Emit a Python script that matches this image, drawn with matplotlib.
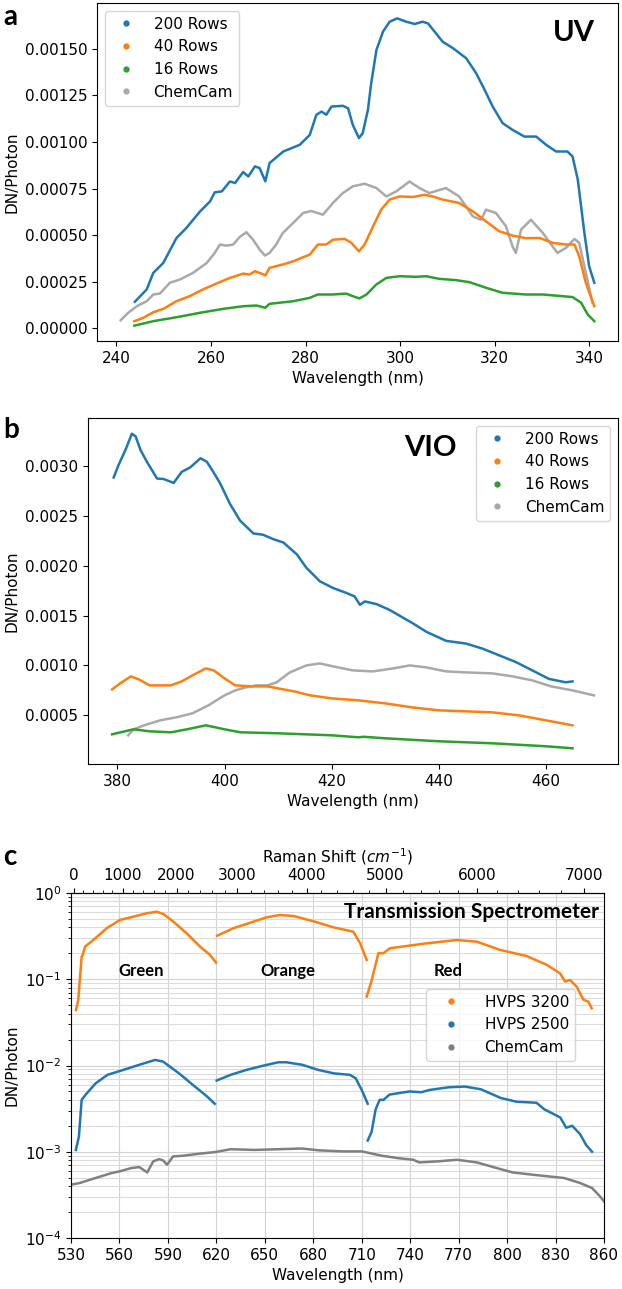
"""
Spectral response of the three spectrometers: UV, VIO and transmission.

Panel a/b: DN per photon vs wavelength for 200/40/16 row binning against ChemCam.
Panel c: transmission spectrometer (two HVPS settings) on a log scale,
with the Raman shift relative to 532 nm on the top axis.
"""

import numpy as np
import matplotlib
matplotlib.use("Agg")
import matplotlib.pyplot as plt
from matplotlib.lines import Line2D
from matplotlib.ticker import AutoMinorLocator

nan = np.nan

# ---- panel a: UV ------------------------------------------------------------
uv_200_wl = [243.9, 246.4, 247.8, 249.9, 252.7, 254.8, 257.7, 259.8, 260.8, 262.3,
             264.0, 265.1, 266.8, 267.9, 269.3, 270.3, 271.5, 272.4, 275.3, 278.8,
             280.9, 282.3, 283.4, 284.4, 285.5, 287.9, 289.0, 290.0, 291.3, 292.1,
             293.2, 293.9, 295.0, 296.4, 297.8, 299.4, 301.3, 303.1, 304.8, 305.9,
             307.6, 309.0, 311.2, 314.0, 316.1, 317.9, 319.6, 321.7, 323.8, 326.3,
             328.8, 330.9, 333.0, 335.4, 336.5, 337.6, 339.0, 340.0, 341.1]
uv_200 = [0.143, 0.209, 0.298, 0.351, 0.485, 0.539, 0.628, 0.681, 0.730, 0.735,
          0.788, 0.780, 0.839, 0.815, 0.869, 0.860, 0.789, 0.887, 0.949, 0.985,
          1.038, 1.146, 1.163, 1.146, 1.190, 1.194, 1.181, 1.092, 1.021, 1.047,
          1.172, 1.315, 1.493, 1.592, 1.645, 1.663, 1.645, 1.633, 1.645, 1.636,
          1.583, 1.538, 1.503, 1.449, 1.369, 1.279, 1.190, 1.101, 1.065, 1.029,
          1.029, 0.985, 0.949, 0.949, 0.922, 0.798, 0.512, 0.334, 0.245]

uv_40_wl = [243.8, 245.7, 247.8, 249.9, 252.7, 255.5, 258.3, 261.2, 264.0, 266.8,
            268.2, 269.3, 270.7, 271.5, 272.4, 275.2, 277.4, 279.5, 280.9, 282.6,
            284.4, 285.8, 288.3, 289.7, 291.3, 292.5, 294.3, 296.0, 297.8, 299.9,
            302.7, 305.2, 306.9, 309.0, 312.5, 315.4, 318.2, 321.0, 323.8, 326.6,
            329.5, 332.3, 335.1, 336.9, 337.9, 339.3, 341.1]
uv_40 = [0.039, 0.057, 0.087, 0.105, 0.146, 0.173, 0.209, 0.241, 0.271, 0.294,
         0.289, 0.307, 0.294, 0.284, 0.325, 0.343, 0.360, 0.382, 0.396, 0.450,
         0.450, 0.476, 0.480, 0.459, 0.414, 0.450, 0.548, 0.637, 0.691, 0.708,
         0.705, 0.717, 0.708, 0.691, 0.673, 0.628, 0.574, 0.521, 0.498, 0.484,
         0.485, 0.459, 0.450, 0.450, 0.387, 0.245, 0.119]

uv_16_wl = [243.8, 247.8, 252.7, 257.7, 262.6, 266.8, 269.6, 271.5, 272.4, 277.4,
            280.9, 282.6, 285.8, 288.6, 290.0, 291.4, 292.9, 295.0, 297.1, 299.9,
            303.4, 305.5, 308.3, 311.9, 314.7, 318.2, 321.7, 326.6, 330.2, 334.4,
            336.5, 338.3, 339.7, 341.1]
uv_16 = [0.015, 0.039, 0.060, 0.084, 0.105, 0.119, 0.123, 0.111, 0.132, 0.146,
         0.164, 0.182, 0.182, 0.187, 0.173, 0.161, 0.182, 0.236, 0.271, 0.280,
         0.277, 0.280, 0.266, 0.259, 0.248, 0.218, 0.191, 0.182, 0.182, 0.173,
         0.168, 0.138, 0.075, 0.039]

uv_cc_wl = [240.9, 242.5, 244.3, 246.4, 247.8, 249.2, 251.3, 253.4, 256.2, 259.1,
            260.8, 261.9, 263.3, 264.7, 266.1, 267.5, 268.9, 270.3, 271.4, 272.4,
            273.8, 275.2, 277.4, 279.5, 281.2, 283.7, 285.8, 287.9, 290.0, 292.5,
            295.0, 297.1, 299.2, 302.0, 304.1, 306.2, 309.7, 312.5, 315.4, 317.1,
            318.2, 320.3, 322.4, 323.8, 324.5, 325.6, 327.7, 330.2, 333.3, 335.1,
            336.9, 337.9, 339.3, 340.7]
uv_cc = [0.044, 0.084, 0.119, 0.146, 0.182, 0.187, 0.245, 0.262, 0.298, 0.351,
         0.405, 0.450, 0.444, 0.450, 0.491, 0.516, 0.476, 0.423, 0.391, 0.405,
         0.450, 0.512, 0.566, 0.619, 0.630, 0.610, 0.673, 0.726, 0.762, 0.776,
         0.753, 0.708, 0.735, 0.788, 0.753, 0.726, 0.753, 0.708, 0.601, 0.583,
         0.637, 0.619, 0.548, 0.440, 0.405, 0.530, 0.583, 0.512, 0.405, 0.432,
         0.480, 0.459, 0.298, 0.138]

# ---- panel b: VIO -----------------------------------------------------------
vio_200_wl = [379.3, 380.2, 381.5, 382.7, 383.4, 384.3, 385.5, 387.4, 388.6, 390.5,
              392.0, 393.6, 395.5, 396.7, 397.9, 399.2, 401.0, 402.9, 405.4, 407.2,
              409.1, 411.0, 413.5, 415.3, 417.8, 420.3, 422.8, 424.3, 425.3, 426.2,
              428.4, 430.8, 435.2, 437.7, 441.4, 445.1, 448.2, 451.3, 454.4, 457.5,
              460.6, 463.7, 465.0]
vio_200 = [2.883, 3.007, 3.159, 3.321, 3.294, 3.159, 3.040, 2.872, 2.868, 2.828,
           2.939, 2.984, 3.075, 3.040, 2.939, 2.822, 2.620, 2.451, 2.322, 2.309,
           2.265, 2.231, 2.113, 1.978, 1.843, 1.775, 1.725, 1.691, 1.607, 1.641,
           1.614, 1.557, 1.421, 1.337, 1.246, 1.219, 1.168, 1.101, 1.034, 0.950,
           0.865, 0.831, 0.840]

vio_40_wl = [379.0, 380.5, 382.5, 384.0, 386.0, 388.0, 390.0, 392.0, 394.0, 396.5,
             398.0, 400.0, 402.0, 405.0, 408.0, 410.0, 413.0, 416.0, 420.0, 425.0,
             430.0, 435.0, 440.0, 445.0, 450.0, 455.0, 460.0, 465.0]
vio_40 = [0.76, 0.82, 0.89, 0.86, 0.80, 0.80, 0.80, 0.84, 0.90, 0.97,
          0.95, 0.87, 0.80, 0.79, 0.79, 0.77, 0.74, 0.70, 0.67, 0.65,
          0.62, 0.58, 0.55, 0.54, 0.53, 0.50, 0.45, 0.40]

vio_16_wl = [379.0, 383.0, 386.0, 390.0, 393.0, 396.5, 400.0, 403.0, 410.0, 420.0,
             425.0, 426.0, 430.0, 440.0, 450.0, 460.0, 465.0]
vio_16 = [0.31, 0.36, 0.34, 0.33, 0.36, 0.40, 0.36, 0.33, 0.32, 0.30,
          0.28, 0.285, 0.27, 0.24, 0.22, 0.19, 0.17]

vio_cc_wl = [382.0, 383.0, 385.0, 388.0, 391.0, 394.0, 397.0, 400.0, 402.0, 404.0,
             406.0, 408.0, 409.7, 412.2, 415.3, 417.8, 420.3, 424.0, 427.7, 431.5,
             434.6, 437.7, 441.4, 445.1, 450.1, 453.8, 457.5, 461.0, 465.0, 469.0]
vio_cc = [0.30, 0.36, 0.40, 0.45, 0.48, 0.52, 0.60, 0.70, 0.75, 0.78,
          0.80, 0.80, 0.83, 0.93, 1.00, 1.02, 0.99, 0.95, 0.94, 0.97,
          1.00, 0.98, 0.94, 0.93, 0.92, 0.89, 0.85, 0.79, 0.75, 0.70]

# ---- panel c: transmission (NaN separates the green/orange/red bands) --------
tr_3200_wl = [533.1, 534.5, 535.6, 536.6, 537.2, 538.7, 543.8, 552.1, 560.3, 568.6,
              576.9, 583.1, 587.2, 593.4, 601.6, 609.9, 616.1, 619.8, nan,
              620.5, 630.5, 642.9, 651.2, 659.4, 667.7, 673.0, 681.0, 692.4, 704.8,
              709.0, 713.1, nan,
              713.1, 716.2, 720.3, 723.4, 727.5, 737.8, 750.2, 768.8, 781.2, 795.6,
              812.1, 824.5, 832.8, 835.9, 839.0, 843.1, 847.2, 850.3, 852.4]
tr_3200 = [0.044, 0.0575, 0.107, 0.183, 0.191, 0.239, 0.285, 0.39, 0.487, 0.531,
           0.582, 0.607, 0.571, 0.465, 0.341, 0.239, 0.191, 0.156, nan,
           0.32, 0.39, 0.465, 0.523, 0.556, 0.541, 0.51, 0.465, 0.40, 0.356,
           0.261, 0.167, nan,
           0.063, 0.098, 0.20, 0.20, 0.229, 0.243, 0.261, 0.285, 0.273, 0.219,
           0.186, 0.147, 0.117, 0.094, 0.098, 0.082, 0.058, 0.055, 0.046]

tr_2500_wl = [533.0, 534.9, 536.6, 539.1, 545.2, 552.6, 562.5, 572.3, 582.1, 587.0,
              596.9, 606.7, 614.1, 619.0, nan,
              620.2, 628.9, 638.7, 648.5, 658.4, 663.3, 673.1, 683.0, 692.8, 702.6,
              706.3, 710.0, 713.7, nan,
              713.7, 716.1, 718.6, 721.1, 723.5, 727.2, 739.5, 746.9, 751.8, 764.1,
              773.9, 783.8, 796.1, 805.9, 818.2, 823.1, 832.9, 836.6, 840.3, 845.2,
              848.9, 852.6]
tr_2500 = [0.00105, 0.0015, 0.0040, 0.0046, 0.0062, 0.0078, 0.0089, 0.0102, 0.0116, 0.0111,
           0.0081, 0.0057, 0.0044, 0.0036, nan,
           0.0067, 0.0078, 0.0089, 0.0099, 0.0109, 0.0109, 0.0102, 0.0089, 0.0081, 0.0078,
           0.0071, 0.0052, 0.0036, nan,
           0.00135, 0.0017, 0.0031, 0.0040, 0.0040, 0.0046, 0.0050, 0.0049, 0.0052, 0.0056,
           0.0057, 0.0053, 0.0042, 0.0038, 0.0037, 0.0031, 0.0025, 0.0019, 0.0020, 0.0016,
           0.0012, 0.0010]

tr_cc_wl = [530.0, 535.4, 545.2, 555.1, 560.0, 567.4, 572.3, 577.2, 580.9, 584.6,
            587.0, 589.5, 593.2, 599.3, 609.2, 619.0, 628.9, 643.6, 658.4, 673.1,
            683.0, 697.7, 710.0, 722.3, 732.1, 742.0, 745.6, 756.7, 769.0, 781.3,
            793.6, 803.4, 815.7, 825.6, 835.4, 845.2, 852.6, 857.5, 860.0]
tr_cc = [0.000415, 0.000434, 0.000496, 0.000566, 0.000592, 0.000647, 0.000664, 0.000576,
         0.000773, 0.000822, 0.000794, 0.000707, 0.000883, 0.000899, 0.000948, 0.00099,
         0.00107, 0.00105, 0.00107, 0.00109, 0.00104, 0.00101, 0.00101, 0.00090,
         0.000845, 0.000807, 0.000752, 0.000773, 0.000807, 0.000752, 0.000647, 0.000576,
         0.000542, 0.000518, 0.000496, 0.000434, 0.00038, 0.000304, 0.000266]

ROW_LABELS = ["200 Rows", "40 Rows", "16 Rows", "ChemCam"]
TR_LABELS = ["HVPS 3200", "HVPS 2500", "ChemCam"]
BANDS = [("Green", 573.5), ("Orange", 664.0), ("Red", 763.5)]
BAND_LABEL_Y = 0.125
RAMAN_TICKS = [0, 1000, 2000, 3000, 4000, 5000, 6000, 7000]

C_BLUE, C_ORANGE, C_GREEN = "#1f77b4", "#ff7f0e", "#2ca02c"
C_CC_LIGHT, C_CC_DARK = "#a9a9a9", "#808080"
FS = 11
LASER_NM = 532.0
BOLD_FONT = ["Lato", "DejaVu Sans"]


def dot_handles(colors):
    return [Line2D([], [], ls="", marker="o", ms=3.5, color=c) for c in colors]


def plot_rows_panel(ax, series, legend_loc):
    colors = [C_BLUE, C_ORANGE, C_GREEN, C_CC_LIGHT]
    # ChemCam drawn first so the detector curves sit on top
    order = [3, 0, 1, 2]
    for i in order:
        wl, val = series[i]
        ax.plot(wl, np.array(val) * 1e-3, color=colors[i], lw=1.8)
    ax.set_xlabel("Wavelength (nm)", fontsize=FS)
    ax.set_ylabel("DN/Photon", fontsize=FS)
    ax.tick_params(labelsize=FS)
    ax.legend(dot_handles(colors), ROW_LABELS, loc=legend_loc, fontsize=FS)


def raman_fwd(wl):
    with np.errstate(divide="ignore", invalid="ignore"):
        return 1e7 / LASER_NM - 1e7 / np.asarray(wl, dtype=float)


def raman_inv(shift):
    with np.errstate(divide="ignore", invalid="ignore"):
        return 1e7 / (1e7 / LASER_NM - np.asarray(shift, dtype=float))


def main():
    W, H = 622, 1289
    fig = plt.figure(figsize=(W / 100, H / 100), dpi=100)

    ax_a = fig.add_axes([97 / W, 1 - 341 / H, 521 / W, 338 / H])
    ax_b = fig.add_axes([88 / W, 1 - 764 / H, 530 / W, 346 / H])
    ax_c = fig.add_axes([71 / W, 1 - 1238 / H, 533 / W, 345 / H])

    plot_rows_panel(ax_a, [(uv_200_wl, uv_200), (uv_40_wl, uv_40),
                           (uv_16_wl, uv_16), (uv_cc_wl, uv_cc)], "upper left")
    plot_rows_panel(ax_b, [(vio_200_wl, vio_200), (vio_40_wl, vio_40),
                           (vio_16_wl, vio_16), (vio_cc_wl, vio_cc)], "upper right")

    ax_a.text(0.955, 0.95, "UV", transform=ax_a.transAxes, ha="right", va="top",
              fontsize=21, fontweight="bold", family=BOLD_FONT)
    ax_b.text(0.695, 0.95, "VIO", transform=ax_b.transAxes, ha="right", va="top",
              fontsize=21, fontweight="bold", family=BOLD_FONT)

    # panel c
    ax_c.set_axisbelow(True)
    ax_c.plot(tr_cc_wl, tr_cc, color=C_CC_DARK, lw=1.8)
    ax_c.plot(tr_3200_wl, tr_3200, color=C_ORANGE, lw=1.8)
    ax_c.plot(tr_2500_wl, tr_2500, color=C_BLUE, lw=1.8)
    ax_c.set_yscale("log")
    ax_c.set_xlim(530, 860)
    ax_c.set_ylim(1e-4, 1)
    ax_c.set_xticks(np.arange(530, 861, 30))
    ax_c.grid(True, which="major", color="#d3d3d3", lw=0.8)
    ax_c.grid(True, which="minor", axis="y", color="#dcdcdc", lw=0.8)
    ax_c.tick_params(labelsize=FS)
    ax_c.set_xlabel("Wavelength (nm)", fontsize=FS)
    ax_c.set_ylabel("DN/Photon", fontsize=FS)
    ax_c.legend(dot_handles([C_ORANGE, C_BLUE, C_CC_DARK]), TR_LABELS,
                loc="upper right", bbox_to_anchor=(0.96, 0.745), fontsize=FS,
                handlelength=2.4, handletextpad=1.0)

    top = ax_c.secondary_xaxis("top", functions=(raman_fwd, raman_inv))
    top.set_xticks(RAMAN_TICKS)
    top.xaxis.set_minor_locator(AutoMinorLocator(5))
    top.tick_params(labelsize=FS)
    top.set_xlabel("Raman Shift ($cm^{-1}$)", fontsize=FS)

    ax_c.text(0.99, 0.975, "Transmission Spectrometer", transform=ax_c.transAxes,
              ha="right", va="top", fontsize=15, fontweight="bold", family=BOLD_FONT)
    for name, x in BANDS:
        ax_c.text(x, BAND_LABEL_Y, name, ha="center", va="center", fontsize=12,
                  fontweight="bold", family=BOLD_FONT)

    for letter, y in [("a", 17), ("b", 430), ("c", 857)]:
        fig.text(3 / W, 1 - y / H, letter, ha="left", va="center", fontsize=20,
                 fontweight="bold", family=BOLD_FONT)

    fig.savefig("out.png", dpi=100)
    plt.close(fig)


if __name__ == "__main__":
    main()
